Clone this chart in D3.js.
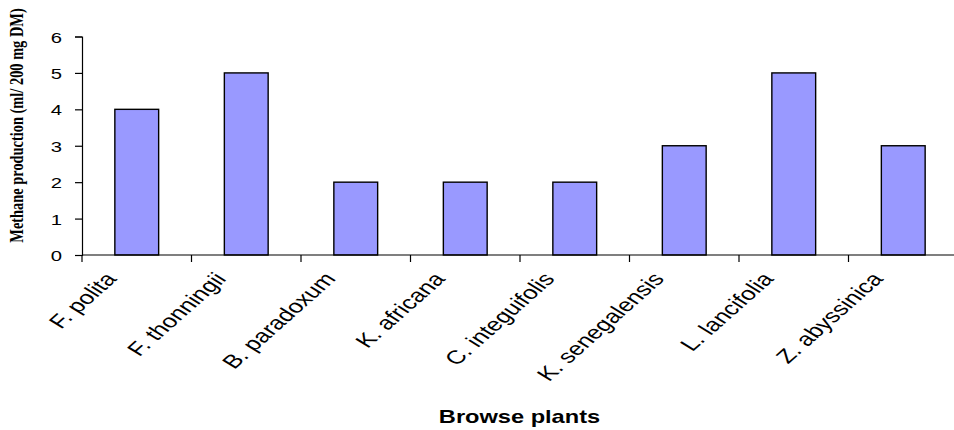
<!DOCTYPE html>
<html>
<head>
<meta charset="utf-8">
<script src="https://cdn.jsdelivr.net/npm/d3@7"></script>
<style>
  html, body { margin: 0; padding: 0; background: #fff; }
  svg { display: block; }
</style>
</head>
<body>
<svg id="chart" width="954" height="430"></svg>
<script>
// Methane production per browse plant
const categories = ["F. polita", "F. thonningii", "B. paradoxum", "K. africana",
                    "C. integuifolis", "K. senegalensis", "L. lancifolia", "Z. abyssinica"];
const methane = [4, 5, 2, 2, 2, 3, 5, 3];
const yTicks = [0, 1, 2, 3, 4, 5, 6];

const svg = d3.select("#chart");
const sx = 1.35; // horizontal text stretch

const x = d3.scaleBand().domain(categories).range([82, 958])
  .paddingInner(0.6).paddingOuter(0.3);
const y = d3.scaleLinear().domain([0, 6]).range([255, 36.5]);

// bars
svg.append("g").selectAll("rect").data(categories).join("rect")
  .attr("x", d => x(d))
  .attr("y", (d, i) => y(methane[i]))
  .attr("width", x.bandwidth())
  .attr("height", (d, i) => y(0) - y(methane[i]))
  .attr("fill", "#9999FF")
  .attr("stroke", "#000")
  .attr("stroke-width", 1.4);

// y axis
const yAxis = svg.append("g").attr("transform", "translate(82,0)")
  .call(d3.axisLeft(y).tickValues(yTicks).tickFormat(d3.format("d")).tickSizeOuter(7).tickSize(7).tickPadding(0));
yAxis.select(".domain").attr("stroke", "#000").attr("stroke-width", 1.2);
yAxis.selectAll(".tick line").attr("stroke", "#000").attr("stroke-width", 1.2);
yAxis.selectAll(".tick text")
  .attr("x", null).attr("dy", null)
  .attr("font-family", "'Liberation Sans', Arial, sans-serif")
  .attr("font-size", 15).attr("fill", "#000")
  .attr("text-anchor", "end")
  .attr("transform", "translate(-20,5.5) scale(" + sx + ",1)");

// x axis: tick marks at the category boundaries
const xAxisG = svg.append("g").attr("transform", "translate(0,255)");
xAxisG.append("line").attr("x1", 82).attr("x2", 958).attr("stroke", "#000").attr("stroke-width", 1.2);
const bounds = d3.range(categories.length + 1).map(i => x.range()[0] + i * x.step());
xAxisG.selectAll("line.tk").data(bounds).join("line").attr("class", "tk")
  .attr("x1", d => d).attr("x2", d => d).attr("y1", 0).attr("y2", 7)
  .attr("stroke", "#000").attr("stroke-width", 1.2);

// rotated category labels
svg.append("g").selectAll("text").data(categories).join("text")
  .attr("transform", d => "translate(" + (x(d) + x.bandwidth() / 2 - 19) + ",279.5) scale(" + sx + ",1) rotate(-50)")
  .attr("text-anchor", "end")
  .attr("font-family", "'Liberation Sans', Arial, sans-serif")
  .attr("font-size", 19).attr("fill", "#000")
  .text(d => d);

// axis titles
svg.append("text")
  .attr("transform", "translate(519.5,423) scale(" + sx + ",1)")
  .attr("text-anchor", "middle")
  .attr("font-family", "'Liberation Sans', Arial, sans-serif")
  .attr("font-weight", "bold").attr("font-size", 17.5).attr("fill", "#000")
  .text("Browse plants");

svg.append("text")
  .attr("transform", "translate(23,125.5) scale(" + sx + ",1) rotate(-90)")
  .attr("text-anchor", "middle")
  .attr("font-family", "'Liberation Serif', 'Times New Roman', serif")
  .attr("font-weight", "bold").attr("font-size", 14.4).attr("fill", "#000")
  .text("Methane production (ml/ 200 mg DM)");
</script>
</body>
</html>
